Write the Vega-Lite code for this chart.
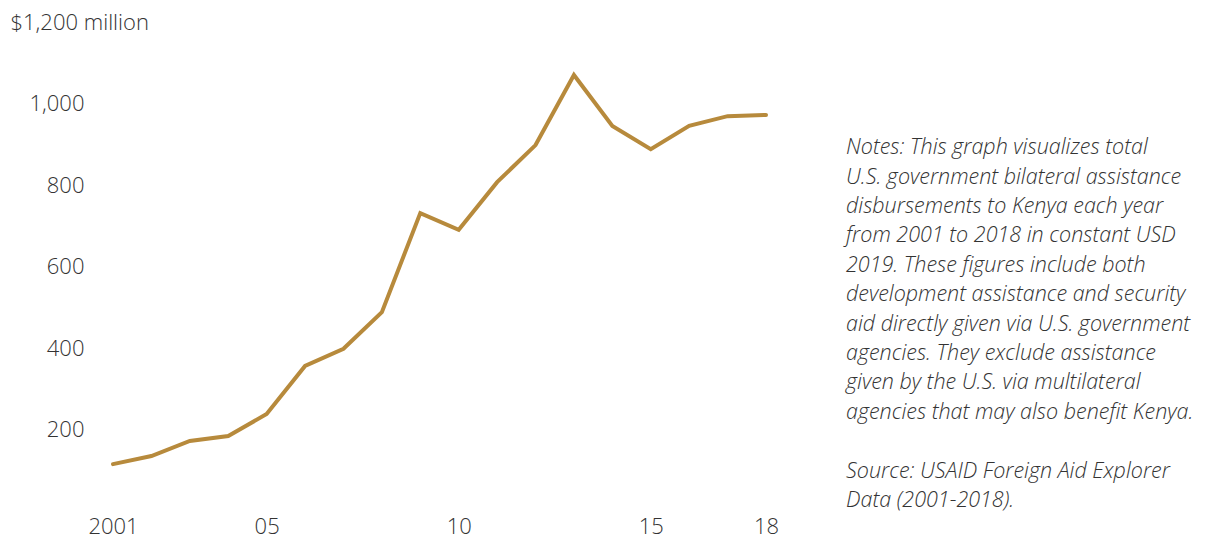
{
  "$schema": "https://vega.github.io/schema/vega-lite/v6.json",
  "background": "white",
  "padding": {"left": 10, "top": 11, "right": 0, "bottom": 0},
  "spacing": 67,
  "config": {
    "view": {"stroke": null},
    "font": "Open Sans",
    "axis": {"labelFont": "Open Sans", "labelFontWeight": 300, "labelColor": "#333333", "labelFontSize": 22, "domain": false, "ticks": false, "grid": false, "title": null}
  },
  "datasets": {
    "aid": [
      {"year": 2001, "value": 115},
      {"year": 2002, "value": 135},
      {"year": 2003, "value": 172},
      {"year": 2004, "value": 184},
      {"year": 2005, "value": 238},
      {"year": 2006, "value": 356},
      {"year": 2007, "value": 398},
      {"year": 2008, "value": 488},
      {"year": 2009, "value": 731},
      {"year": 2010, "value": 690},
      {"year": 2011, "value": 807},
      {"year": 2012, "value": 898},
      {"year": 2013, "value": 1070},
      {"year": 2014, "value": 945},
      {"year": 2015, "value": 888},
      {"year": 2016, "value": 945},
      {"year": 2017, "value": 969},
      {"year": 2018, "value": 972}
    ],
    "notes": [
      {"line": 0, "text": "Notes: This graph visualizes total"},
      {"line": 1, "text": "U.S. government bilateral assistance"},
      {"line": 2, "text": "disbursements to Kenya each year"},
      {"line": 3, "text": "from 2001 to 2018 in constant USD"},
      {"line": 4, "text": "2019. These figures include both"},
      {"line": 5, "text": "development assistance and security"},
      {"line": 6, "text": "aid directly given via U.S. government"},
      {"line": 7, "text": "agencies. They exclude assistance"},
      {"line": 8, "text": "given by the U.S. via multilateral"},
      {"line": 9, "text": "agencies that may also benefit Kenya."},
      {"line": 11, "text": "Source: USAID Foreign Aid Explorer"},
      {"line": 12, "text": "Data (2001-2018)."}
    ]
  },
  "hconcat": [
    {
      "width": 653,
      "height": 489,
      "data": {"name": "aid"},
      "mark": {"type": "line", "color": "#b78a3c", "strokeWidth": 4, "strokeJoin": "miter", "strokeCap": "round"},
      "encoding": {
        "x": {
          "field": "year", "type": "quantitative",
          "scale": {"domain": [2001, 2018], "nice": false, "zero": false},
          "axis": {"values": [2001, 2005, 2010, 2015, 2018], "labelExpr": "datum.value == 2001 ? '2001' : substring(toString(datum.value), 2, 4)", "labelPadding": 5, "labelFlush": false}
        },
        "y": {
          "field": "value", "type": "quantitative",
          "scale": {"domain": [0, 1200], "nice": false},
          "axis": {
            "values": [200, 400, 600, 800, 1000, 1200],
            "labelExpr": "datum.value == 1200 ? '$1,200 million' : format(datum.value, ',')",
            "labelAlign": {"condition": {"test": "datum.value == 1200", "value": "left"}, "value": "right"},
            "labelPadding": {"condition": {"test": "datum.value == 1200", "value": 103}, "value": 29},
            "labelFlush": false
          }
        }
      }
    },
    {
      "width": 365,
      "height": 489,
      "data": {"name": "notes"},
      "mark": {"type": "text", "align": "left", "baseline": "middle", "font": "Open Sans", "fontStyle": "italic", "fontWeight": 300, "fontSize": 21.5, "color": "#333333"},
      "encoding": {
        "x": {"datum": 0, "type": "quantitative", "scale": {"domain": [0, 1]}, "axis": null},
        "y": {"field": "line", "type": "quantitative", "scale": {"domain": [-4.29, 12.34], "reverse": true, "nice": false, "zero": false}, "axis": null},
        "text": {"field": "text"}
      }
    }
  ]
}
